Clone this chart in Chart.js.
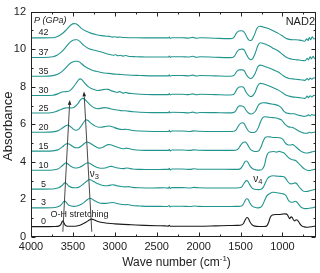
<!DOCTYPE html>
<html><head><meta charset="utf-8">
<script src="https://cdn.jsdelivr.net/npm/chart.js@4.4.1/dist/chart.umd.min.js"></script>
<style>html,body{margin:0;padding:0;background:#fff;}canvas{display:block;}</style>
</head><body>
<canvas id="c" width="320" height="273"></canvas>
<script>
const pressures = [0, 3, 5, 10, 15, 20, 25, 30, 35, 37, 42];
const xTicks = [4000, 3500, 3000, 2500, 2000, 1500, 1000];
const yTicks = [0, 2, 4, 6, 8, 10, 12];

const spec_P0 = [[4000,0.55],[3850,0.55],[3720,0.56],[3670,0.58],[3645,0.66],[3628,0.82],[3618,0.86],[3606,0.74],[3590,0.62],[3560,0.57],[3500,0.57],[3440,0.6],[3390,0.68],[3340,0.8],[3305,0.9],[3280,0.95],[3250,0.92],[3210,0.84],[3150,0.77],[3080,0.73],[3000,0.7],[2900,0.67],[2800,0.65],[2650,0.62],[2500,0.6],[2400,0.59],[2365,0.58],[2350,0.62],[2340,0.57],[2200,0.57],[2000,0.57],[1800,0.59],[1650,0.61],[1540,0.62],[1490,0.64],[1465,0.72],[1445,0.9],[1425,1.04],[1408,1.0],[1390,0.82],[1365,0.66],[1330,0.58],[1280,0.56],[1220,0.56],[1185,0.6],[1165,0.78],[1145,1.05],[1120,1.17],[1080,1.2],[1040,1.2],[1000,1.22],[965,1.23],[940,1.18],[925,1.05],[912,0.98],[898,1.07],[885,1.05],[870,0.92],[855,0.86],[838,0.92],[822,0.9],[805,0.8],[785,0.66],[765,0.58],[740,0.54],[710,0.52],[680,0.53],[650,0.55],[620,0.57],[600,0.58]];
const spec_P3 = [[4000,1.55],[3850,1.55],[3720,1.57],[3670,1.62],[3635,1.74],[3610,1.88],[3598,1.92],[3582,1.86],[3560,1.74],[3530,1.66],[3490,1.63],[3450,1.65],[3400,1.74],[3360,1.87],[3325,2.0],[3300,2.06],[3278,2.03],[3245,1.94],[3200,1.84],[3150,1.79],[3100,1.79],[3060,1.82],[3030,1.84],[2995,1.81],[2950,1.76],[2880,1.72],[2850,1.73],[2800,1.68],[2700,1.65],[2600,1.63],[2450,1.63],[2370,1.62],[2352,1.68],[2343,1.6],[2330,1.64],[2200,1.64],[2100,1.62],[2050,1.65],[2000,1.63],[1850,1.62],[1700,1.62],[1560,1.63],[1500,1.64],[1470,1.72],[1448,1.92],[1428,2.04],[1410,2.0],[1390,1.82],[1365,1.66],[1330,1.58],[1290,1.55],[1260,1.58],[1235,1.72],[1210,1.98],[1185,2.2],[1150,2.32],[1110,2.38],[1070,2.36],[1030,2.33],[1000,2.3],[975,2.27],[955,2.18],[935,2.0],[915,1.88],[895,1.85],[870,1.86],[850,1.9],[832,1.88],[810,1.76],[785,1.62],[760,1.54],[730,1.51],[700,1.52],[670,1.54],[640,1.56],[615,1.59],[600,1.6]];
const spec_P5 = [[4000,2.55],[3850,2.55],[3720,2.57],[3670,2.62],[3630,2.74],[3605,2.86],[3592,2.9],[3575,2.84],[3545,2.7],[3505,2.63],[3460,2.62],[3420,2.68],[3375,2.82],[3335,2.97],[3305,3.06],[3285,3.04],[3250,2.95],[3200,2.83],[3140,2.74],[3090,2.73],[3050,2.76],[3020,2.78],[2990,2.75],[2940,2.7],[2870,2.67],[2840,2.68],[2790,2.64],[2700,2.62],[2550,2.61],[2400,2.62],[2360,2.6],[2350,2.67],[2340,2.58],[2320,2.63],[2200,2.63],[2100,2.61],[2060,2.64],[2000,2.62],[1800,2.61],[1600,2.61],[1520,2.62],[1485,2.67],[1458,2.86],[1432,3.0],[1412,2.96],[1392,2.8],[1365,2.62],[1330,2.54],[1290,2.52],[1255,2.54],[1230,2.64],[1205,2.88],[1180,3.1],[1150,3.22],[1110,3.26],[1070,3.24],[1030,3.23],[1000,3.22],[975,3.18],[955,3.08],[935,2.94],[915,2.85],[895,2.83],[870,2.85],[850,2.88],[832,2.85],[810,2.72],[785,2.58],[760,2.47],[730,2.42],[700,2.43],[670,2.47],[640,2.5],[615,2.53],[600,2.55]];
const spec_P10 = [[4000,3.55],[3850,3.55],[3720,3.58],[3670,3.64],[3630,3.78],[3600,3.9],[3582,3.95],[3562,3.9],[3530,3.78],[3490,3.69],[3455,3.67],[3420,3.71],[3380,3.81],[3345,3.92],[3322,3.95],[3300,3.92],[3260,3.81],[3210,3.7],[3170,3.66],[3120,3.67],[3080,3.73],[3045,3.76],[3010,3.73],[2960,3.67],[2900,3.64],[2860,3.67],[2830,3.66],[2790,3.62],[2700,3.6],[2550,3.59],[2400,3.6],[2360,3.6],[2350,3.66],[2340,3.57],[2320,3.62],[2200,3.62],[2100,3.6],[2060,3.63],[2000,3.61],[1800,3.61],[1600,3.6],[1530,3.6],[1495,3.66],[1468,3.85],[1445,4.02],[1428,4.05],[1408,3.95],[1385,3.76],[1350,3.62],[1310,3.57],[1270,3.56],[1240,3.62],[1215,3.82],[1195,4.22],[1175,4.45],[1150,4.53],[1110,4.55],[1070,4.52],[1040,4.56],[1010,4.52],[990,4.5],[965,4.4],[940,4.28],[915,4.18],[890,4.13],[865,4.1],[840,4.06],[815,3.96],[790,3.84],[760,3.7],[730,3.6],[705,3.55],[680,3.54],[650,3.57],[620,3.6],[600,3.62]];
const spec_P15 = [[4000,4.57],[3850,4.57],[3720,4.6],[3670,4.66],[3625,4.8],[3590,4.93],[3566,4.98],[3540,4.94],[3505,4.83],[3465,4.75],[3430,4.76],[3395,4.86],[3360,4.99],[3335,5.06],[3310,5.03],[3270,4.92],[3225,4.8],[3185,4.73],[3150,4.76],[3110,4.86],[3080,4.92],[3050,4.91],[3010,4.84],[2950,4.75],[2900,4.7],[2865,4.73],[2835,4.71],[2790,4.66],[2700,4.62],[2550,4.61],[2400,4.61],[2360,4.61],[2350,4.67],[2340,4.58],[2320,4.63],[2200,4.63],[2100,4.61],[2060,4.64],[2000,4.62],[1800,4.61],[1620,4.61],[1560,4.62],[1525,4.7],[1500,4.88],[1475,5.02],[1450,5.06],[1428,5.0],[1408,4.85],[1385,4.68],[1350,4.58],[1310,4.55],[1280,4.6],[1255,4.8],[1230,5.1],[1205,5.3],[1175,5.34],[1140,5.32],[1100,5.3],[1060,5.3],[1020,5.27],[995,5.2],[975,5.06],[955,4.95],[930,4.9],[905,4.9],[880,4.92],[860,4.88],[835,4.78],[805,4.66],[775,4.56],[745,4.5],[715,4.47],[690,4.48],[660,4.52],[630,4.55],[600,4.56]];
const spec_P20 = [[4000,5.58],[3850,5.58],[3720,5.61],[3670,5.67],[3625,5.8],[3585,5.92],[3560,5.96],[3535,5.9],[3500,5.76],[3465,5.68],[3430,5.74],[3395,5.95],[3365,6.15],[3345,6.24],[3320,6.2],[3285,6.06],[3240,5.92],[3190,5.84],[3150,5.85],[3100,5.9],[3065,5.91],[3030,5.87],[2970,5.77],[2910,5.72],[2870,5.74],[2840,5.72],[2790,5.67],[2700,5.64],[2550,5.62],[2400,5.62],[2360,5.62],[2350,5.68],[2340,5.59],[2320,5.64],[2200,5.64],[2100,5.62],[2060,5.65],[2000,5.63],[1800,5.62],[1640,5.62],[1580,5.63],[1550,5.72],[1525,5.92],[1500,6.05],[1478,6.08],[1455,6.02],[1435,5.85],[1410,5.67],[1385,5.58],[1350,5.56],[1315,5.62],[1285,5.85],[1260,6.15],[1235,6.35],[1205,6.4],[1170,6.38],[1130,6.36],[1090,6.35],[1050,6.3],[1015,6.24],[990,6.12],[965,5.98],[940,5.9],[915,5.85],[890,5.84],[865,5.8],[835,5.72],[800,5.63],[765,5.56],[735,5.52],[705,5.52],[680,5.58],[660,5.54],[630,5.58],[600,5.6]];
const spec_P25 = [[4000,6.6],[3850,6.6],[3740,6.63],[3700,6.68],[3650,6.78],[3600,6.86],[3560,6.88],[3520,6.87],[3480,6.92],[3440,7.1],[3410,7.3],[3385,7.38],[3360,7.33],[3320,7.15],[3280,6.98],[3240,6.87],[3205,6.83],[3160,6.86],[3120,6.89],[3080,6.86],[3030,6.8],[2980,6.76],[2930,6.73],[2880,6.72],[2840,6.7],[2780,6.67],[2700,6.64],[2550,6.62],[2400,6.62],[2360,6.62],[2350,6.68],[2340,6.6],[2320,6.64],[2200,6.63],[2120,6.61],[2070,6.65],[2030,6.6],[1980,6.63],[1800,6.62],[1650,6.61],[1590,6.62],[1560,6.7],[1535,6.9],[1510,6.98],[1480,6.97],[1455,6.9],[1430,6.72],[1405,6.6],[1380,6.55],[1350,6.58],[1320,6.72],[1290,7.0],[1260,7.12],[1230,7.15],[1195,7.14],[1150,7.1],[1100,7.06],[1050,7.0],[1010,6.86],[985,6.7],[960,6.62],[930,6.58],[900,6.56],[860,6.56],[820,6.5],[780,6.46],[745,6.42],[715,6.44],[690,6.5],[670,6.44],[650,6.52],[625,6.48],[600,6.52]];
const spec_P30 = [[4000,7.53],[3850,7.53],[3740,7.55],[3680,7.62],[3630,7.72],[3580,7.74],[3540,7.78],[3500,7.95],[3460,8.2],[3430,8.38],[3415,8.42],[3395,8.38],[3360,8.2],[3320,8.02],[3280,7.9],[3240,7.84],[3200,7.8],[3160,7.83],[3110,7.87],[3075,7.86],[3040,7.78],[3000,7.73],[2970,7.7],[2945,7.74],[2920,7.7],[2895,7.66],[2870,7.7],[2845,7.66],[2800,7.64],[2700,7.6],[2550,7.58],[2400,7.58],[2360,7.58],[2350,7.64],[2340,7.56],[2320,7.6],[2200,7.6],[2120,7.58],[2070,7.62],[2030,7.57],[1980,7.6],[1800,7.58],[1650,7.56],[1600,7.57],[1570,7.65],[1545,7.86],[1515,7.98],[1485,8.0],[1460,7.94],[1435,7.72],[1410,7.56],[1385,7.48],[1355,7.52],[1325,7.72],[1295,8.05],[1265,8.18],[1235,8.16],[1195,8.1],[1150,8.02],[1100,7.92],[1050,7.82],[1000,7.68],[960,7.56],[920,7.5],[880,7.46],[840,7.44],[800,7.42],[760,7.4],[730,7.38],[705,7.5],[690,7.42],[670,7.52],[650,7.46],[625,7.55],[600,7.5]];
const spec_P35 = [[4000,8.56],[3850,8.56],[3740,8.59],[3690,8.65],[3640,8.78],[3590,8.98],[3550,9.18],[3510,9.3],[3470,9.36],[3445,9.36],[3410,9.28],[3370,9.12],[3320,8.98],[3270,8.88],[3220,8.82],[3160,8.76],[3100,8.72],[3050,8.7],[3000,8.67],[2950,8.66],[2900,8.64],[2800,8.61],[2700,8.6],[2550,8.58],[2400,8.58],[2360,8.58],[2350,8.64],[2340,8.56],[2320,8.6],[2200,8.6],[2120,8.58],[2070,8.62],[2030,8.57],[1980,8.6],[1800,8.58],[1650,8.56],[1600,8.57],[1570,8.65],[1545,8.82],[1515,8.9],[1480,8.9],[1455,8.84],[1430,8.64],[1405,8.5],[1380,8.44],[1355,8.5],[1325,8.72],[1295,9.05],[1265,9.15],[1235,9.12],[1195,9.05],[1150,8.98],[1100,8.88],[1050,8.78],[1000,8.62],[960,8.5],[920,8.44],[880,8.42],[840,8.4],[800,8.38],[760,8.36],[730,8.34],[705,8.44],[690,8.36],[670,8.46],[650,8.4],[625,8.48],[600,8.44]];
const spec_P37 = [[4000,9.56],[3850,9.56],[3740,9.6],[3690,9.68],[3640,9.84],[3590,10.08],[3550,10.3],[3510,10.45],[3475,10.5],[3450,10.5],[3415,10.4],[3370,10.2],[3320,10.05],[3270,9.97],[3220,9.92],[3160,9.85],[3100,9.76],[3060,9.72],[3020,9.68],[2990,9.7],[2960,9.65],[2930,9.68],[2900,9.63],[2870,9.66],[2830,9.61],[2750,9.6],[2600,9.58],[2450,9.58],[2360,9.58],[2350,9.64],[2340,9.56],[2320,9.6],[2200,9.6],[2120,9.58],[2070,9.62],[2030,9.57],[1980,9.6],[1800,9.57],[1650,9.55],[1600,9.56],[1570,9.64],[1545,9.85],[1515,9.98],[1480,10.0],[1455,9.95],[1430,9.72],[1405,9.52],[1380,9.44],[1355,9.5],[1325,9.78],[1295,10.18],[1265,10.34],[1235,10.32],[1195,10.25],[1150,10.15],[1100,10.02],[1050,9.9],[1000,9.72],[960,9.58],[920,9.5],[880,9.46],[840,9.44],[800,9.42],[760,9.4],[730,9.38],[705,9.52],[690,9.42],[670,9.6],[655,9.48],[635,9.62],[615,9.5],[600,9.56]];
const spec_P42 = [[4000,10.6],[3850,10.6],[3720,10.62],[3670,10.7],[3630,10.82],[3590,10.98],[3555,11.15],[3520,11.3],[3490,11.36],[3465,11.35],[3430,11.24],[3390,11.08],[3340,10.95],[3280,10.84],[3220,10.77],[3160,10.72],[3100,10.69],[3060,10.68],[3030,10.64],[3000,10.66],[2970,10.63],[2940,10.65],[2900,10.62],[2800,10.61],[2650,10.6],[2450,10.6],[2360,10.6],[2350,10.65],[2340,10.57],[2320,10.61],[2200,10.61],[2120,10.59],[2070,10.63],[2030,10.58],[1980,10.61],[1800,10.58],[1650,10.56],[1600,10.57],[1575,10.65],[1550,10.85],[1520,10.97],[1490,10.98],[1465,10.95],[1440,10.78],[1415,10.56],[1390,10.46],[1365,10.5],[1335,10.76],[1305,11.1],[1275,11.22],[1245,11.2],[1200,11.14],[1150,11.06],[1100,10.95],[1050,10.84],[1000,10.7],[960,10.58],[920,10.52],[880,10.5],[840,10.5],[800,10.48],[760,10.45],[735,10.42],[710,10.55],[695,10.46],[680,10.62],[665,10.5],[645,10.66],[625,10.54],[600,10.58]];

const spectra = [spec_P0, spec_P3, spec_P5, spec_P10, spec_P15, spec_P20, spec_P25, spec_P30, spec_P35, spec_P37, spec_P42];
// pressure-shift guide arrows (wavenumber, absorbance)
const arrowOH = [[3620, 0.28], [3537, 7.3]];
const arrowV3 = [[3275, 0.28], [3368, 7.75]];

const FONT = "'Liberation Sans', Arial, sans-serif";
const TEAL = '#23958f';

const datasets = spectra.map((s, i) => ({
  label: pressures[i] + ' GPa',
  data: s.map(([x, y]) => ({x, y})),
  borderColor: i === 0 ? '#1a1a1a' : TEAL,
  borderWidth: 1.1,
  pointRadius: 0,
  fill: false,
  cubicInterpolationMode: 'monotone'
}));

const overlay = {
  id: 'overlay',
  afterDraw(chart) {
    const {ctx, chartArea: a, scales: {x, y}} = chart;
    ctx.save();
    ctx.strokeStyle = '#222';
    ctx.lineWidth = 1;
    const L = Math.round(a.left) + 0.5, R = Math.round(a.right) - 0.5;
    const T = Math.round(a.top) + 0.5, B = Math.round(a.bottom) - 0.5;
    ctx.strokeRect(L, T, R - L, B - T);
    ctx.beginPath();
    xTicks.forEach(v => {
      const px = Math.round(x.getPixelForValue(v)) + 0.5;
      ctx.moveTo(px, B); ctx.lineTo(px, B - 4);
      ctx.moveTo(px, T); ctx.lineTo(px, T + 4);
    });
    xTicks.forEach(v => {
      const m = v - 250;
      if (m < x.min) return;
      const px = Math.round(x.getPixelForValue(m)) + 0.5;
      ctx.moveTo(px, B); ctx.lineTo(px, B - 2);
      ctx.moveTo(px, T); ctx.lineTo(px, T + 2);
    });
    yTicks.forEach(v => {
      const py = Math.round(y.getPixelForValue(v)) + 0.5;
      ctx.moveTo(L, py); ctx.lineTo(L + 4, py);
      ctx.moveTo(R, py); ctx.lineTo(R - 4, py);
      if (v + 1 <= y.max) {
        const pm = Math.round(y.getPixelForValue(v + 1)) + 0.5;
        ctx.moveTo(L, pm); ctx.lineTo(L + 2, pm);
        ctx.moveTo(R, pm); ctx.lineTo(R - 2, pm);
      }
    });
    ctx.stroke();

    // arrows
    ctx.strokeStyle = '#333';
    ctx.fillStyle = '#222';
    ctx.lineWidth = 0.9;
    [arrowOH, arrowV3].forEach(([p0, p1]) => {
      const x0 = x.getPixelForValue(p0[0]), y0 = y.getPixelForValue(p0[1]);
      const x1 = x.getPixelForValue(p1[0]), y1 = y.getPixelForValue(p1[1]);
      const ang = Math.atan2(y1 - y0, x1 - x0);
      const hl = 5, hw = 1.8;
      const bx = x1 - hl * Math.cos(ang), by = y1 - hl * Math.sin(ang);
      ctx.beginPath(); ctx.moveTo(x0, y0); ctx.lineTo(bx, by); ctx.stroke();
      ctx.beginPath();
      ctx.moveTo(x1, y1);
      ctx.lineTo(bx + hw * Math.sin(ang), by - hw * Math.cos(ang));
      ctx.lineTo(bx - hw * Math.sin(ang), by + hw * Math.cos(ang));
      ctx.closePath(); ctx.fill();
    });

    // pressure labels
    ctx.fillStyle = '#222';
    ctx.font = '9px ' + FONT;
    ctx.textAlign = 'center';
    ctx.textBaseline = 'middle';
    const lx = x.getPixelForValue(3850);
    pressures.forEach((p, i) => {
      ctx.fillText(String(p), lx, y.getPixelForValue(spectra[i][0][1]) - 5);
    });

    // header labels
    ctx.font = 'italic 9px ' + FONT;
    ctx.textAlign = 'left';
    ctx.fillText('P (GPa)', a.left + 3, a.top + 9);
    ctx.font = '11px ' + FONT;
    ctx.textAlign = 'right';
    ctx.fillText('NAD2', a.right - 1, a.top + 10);

    // mode annotations
    ctx.textAlign = 'center';
    ctx.font = '9px ' + FONT;
    ctx.fillText('O-H stretching', x.getPixelForValue(3420), y.getPixelForValue(1.22));
    const sub = (main, s, wx, ay) => {
      const px = x.getPixelForValue(wx), py = y.getPixelForValue(ay);
      ctx.textAlign = 'left';
      ctx.font = '10px ' + FONT;
      const w = ctx.measureText(main).width;
      ctx.fillText(main, px - 4, py);
      ctx.font = '7.5px ' + FONT;
      ctx.fillText(s, px - 4 + w, py + 2.5);
    };
    sub('ν', '3', 3250, 3.34);
    sub('ν', '4', 1300, 3.08);

    // axis titles
    ctx.font = '13px ' + FONT;
    ctx.textAlign = 'center';
    ctx.save();
    ctx.translate(8, (a.top + a.bottom) / 2 + 2);
    ctx.rotate(-Math.PI / 2);
    ctx.fillText('Absorbance', 0, 0);
    ctx.restore();
    const t1 = 'Wave number (cm', t2 = '-1', t3 = ')';
    ctx.font = '12px ' + FONT;
    const w1 = ctx.measureText(t1).width, w3 = ctx.measureText(t3).width;
    ctx.font = '8px ' + FONT;
    const w2 = ctx.measureText(t2).width;
    let sx = (a.left + a.right) / 2 + 3 - (w1 + w2 + w3) / 2;
    const ty = 263;
    ctx.textAlign = 'left';
    ctx.font = '12px ' + FONT; ctx.fillText(t1, sx, ty); sx += w1;
    ctx.font = '8px ' + FONT; ctx.fillText(t2, sx, ty - 4); sx += w2;
    ctx.font = '12px ' + FONT; ctx.fillText(t3, sx, ty);
    ctx.restore();
  }
};

new Chart(document.getElementById('c'), {
  type: 'line',
  data: {datasets},
  options: {
    responsive: false,
    devicePixelRatio: 1,
    animation: false,
    events: [],
    layout: {padding: {left: 0, right: 4, top: 6, bottom: 0}},
    plugins: {legend: {display: false}, tooltip: {enabled: false}},
    scales: {
      x: {
        type: 'linear', min: 600, max: 4000, reverse: true,
        afterFit: s => { s.height = 36; },
        afterBuildTicks: s => { s.ticks = xTicks.map(v => ({value: v})); },
        grid: {display: false, drawTicks: false},
        border: {display: false},
        ticks: {font: {size: 11, family: FONT}, color: '#222', padding: 3, maxRotation: 0, autoSkip: false, callback: v => String(v)}
      },
      y: {
        type: 'linear', min: 0, max: 12,
        afterFit: s => { s.width = 31; },
        afterBuildTicks: s => { s.ticks = yTicks.map(v => ({value: v})); },
        grid: {display: false, drawTicks: false},
        border: {display: false},
        ticks: {font: {size: 11, family: FONT}, color: '#222', padding: 5, callback: v => String(v)}
      }
    }
  },
  plugins: [overlay]
});
</script>
</body></html>
